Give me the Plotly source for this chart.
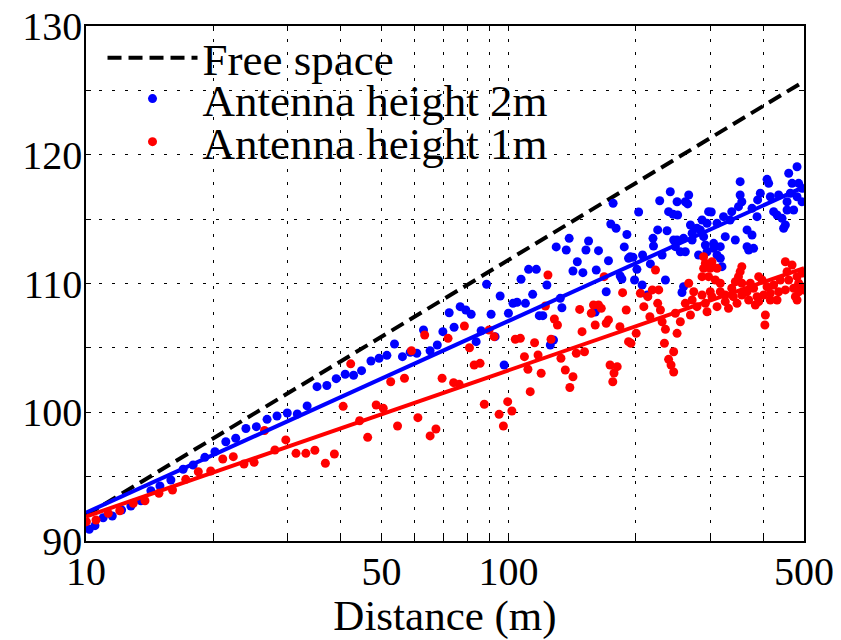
import plotly.graph_objects as go

# ---------------- data ----------------
# Antenna height 2 m (blue dots): distance (m) and path loss (dB)
dist_2m = [
    10.18, 10.50, 10.98, 11.54, 12.14, 12.77, 13.49, 14.24, 14.96, 15.88,
    16.98, 17.93, 19.11, 20.19, 21.42, 22.61, 23.90, 25.30, 26.82, 28.31,
    29.94, 31.62, 33.36, 35.21, 37.15, 39.09, 41.05, 42.97, 44.88, 47.24,
    49.38, 51.52, 53.7, 56.08, 58.5, 60.64, 62.9, 65.19, 67.8, 69.9,
    72.34, 74.3, 76.8, 79.2, 81.54, 83.8, 86.1, 88.7, 90.9, 92.9,
    95.5, 97.6, 99.9, 102.4, 104.7, 107.0, 109.6, 111.5, 114.0, 116.3,
    118.2, 120.5, 123.2, 125.5, 127.7, 129.6, 132.5, 133.7, 136.9, 139.1,
    142.0, 145.4, 149.9, 152.4, 154.6, 160.3, 161.2, 163.2, 170.2, 172.3,
    174.5, 176.7, 179.6, 183.7, 185.4, 187.8, 190.5, 192.2, 194.0, 196.9,
    198.6, 201.2, 203.1, 207.0, 207.5, 212.8, 216.5, 219.6, 220.2, 225.3,
    227.8, 230.8, 235.0, 237.1, 239.1, 241.3, 245.0, 245.8, 248.1, 250.4,
    251.2, 250.4, 254.9, 257.2, 259.4, 259.4, 261.9, 261.9, 265.3, 266.8,
    269.3, 271.8, 271.8, 279.1, 281.5, 284.2, 286.9, 289.4, 292.1, 294.8,
    294.8, 297.3, 301.7, 305.6, 305.6, 311.3, 311.3, 316.9, 316.9, 319.8,
    322.5, 325.6, 334.2, 337.3, 343.9, 349.9, 353.1, 353.1, 356.3, 366.6,
    366.6, 369.8, 376.7, 376.7, 379.9, 387.1, 388.4, 394.1, 408.8, 412.4,
    416.2, 423.8, 431.7, 435.5, 443.6, 447.5, 451.7, 455.9, 455.9, 460.0,
    464.1, 468.5, 472.6, 481.4, 481.4, 485.6, 494.7, 494.7,
]
loss_2m = [
    90.91, 91.19, 91.81, 91.94, 92.41, 92.72, 93.13, 93.91, 94.27, 94.74,
    95.57, 95.90, 96.50, 96.94, 97.71, 97.98, 98.74, 98.88, 99.45, 99.71,
    99.94, 99.86, 100.49, 101.99, 102.08, 102.61, 102.95, 102.87, 103.23, 103.98,
    104.19, 104.42, 105.30, 104.32, 104.66, 104.58, 106.39, 104.78, 105.22, 106.26,
    107.73, 106.60, 108.20, 107.94, 107.61, 105.48, 106.33, 109.94, 107.61, 105.87,
    109.03, 103.67, 107.69, 108.46, 108.54, 110.33, 108.46, 111.10, 109.16, 111.10,
    107.50, 107.50, 109.88, 105.22, 105.61, 112.84, 108.85, 108.12, 112.60, 113.51,
    110.97, 111.69, 110.84, 112.60, 113.30, 107.79, 111.05, 112.55, 109.36, 111.77,
    114.62, 116.23, 114.29, 110.58, 110.35, 112.84, 113.81, 111.96, 112.08, 112.04,
    110.27, 111.10, 115.55, 109.88, 112.21, 109.11, 111.52, 113.51, 112.91, 114.16,
    116.43, 112.21, 110.27, 114.10, 115.58, 117.13, 115.38, 113.38, 112.86, 116.35,
    115.32, 113.38, 112.47, 109.30, 109.75, 113.51, 116.35, 112.47, 116.18, 116.87,
    114.54, 113.90, 113.38, 114.29, 112.21, 114.16, 114.93, 113.64, 112.99, 114.68,
    112.47, 115.58, 115.55, 113.12, 112.73, 114.68, 112.21, 112.86, 111.96, 111.31,
    115.19, 113.64, 114.93, 115.58, 113.38, 115.97, 117.91, 116.87, 116.35, 114.16,
    112.86, 112.60, 115.84, 113.77, 112.73, 115.19, 116.49, 117.01, 118.09, 117.78,
    116.74, 115.58, 115.32, 116.87, 115.06, 114.29, 114.54, 116.35, 115.71, 118.56,
    117.01, 117.78, 115.71, 119.07, 116.74, 117.78, 117.39, 116.35,
]

# Antenna height 1 m (red dots)
dist_1m = [
    10.02, 10.56, 11.29, 12.02, 12.94, 13.79, 14.88, 16.02, 17.22, 18.44,
    19.73, 21.07, 22.31, 23.65, 24.99, 26.45, 27.99, 29.7, 31.4, 33.13,
    34.8, 36.85, 38.7, 40.6, 42.3, 44.4, 46.4, 48.6, 50.5, 52.6,
    54.6, 56.7, 58.9, 61.0, 63.3, 65.2, 67.3, 69.6, 71.9, 74.1,
    76.4, 78.6, 80.8, 82.9, 85.6, 87.6, 89.9, 92.4, 94.95, 97.2,
    99.5, 101.8, 103.7, 106.6, 109.0, 111.1, 112.5, 115.2, 117.4, 119.4,
    122.2, 123.9, 126.0, 128.3, 130.5, 133.0, 136.2, 139.6, 142.0, 144.6,
    147.3, 149.2, 151.2, 156.9, 158.8, 160.3, 163.2, 165.7, 168.3, 170.2,
    172.3, 173.8, 176.4, 177.6, 180.7, 183.4, 186.1, 189.8, 192.2, 194.7,
    200.4, 205.0, 208.9, 213.5, 215.9, 218.8, 222.6, 225.3, 226.6, 228.7,
    230.8, 233.7, 235.0, 239.1, 242.3, 245.8, 245.8, 248.1, 250.4, 254.9,
    261.9, 266.8, 269.3, 271.8, 274.2, 279.1, 286.9, 286.9, 289.4, 289.4,
    292.1, 292.1, 294.8, 297.3, 300.0, 300.0, 302.8, 302.8, 308.4, 311.3,
    311.3, 316.9, 316.9, 325.6, 325.6, 331.4, 337.3, 340.2, 343.9, 347.1,
    349.9, 353.1, 356.3, 356.3, 356.3, 366.6, 369.8, 373.2, 379.9, 383.5,
    387.1, 390.6, 390.6, 397.9, 401.3, 405.1, 404.0, 408.8, 416.2, 416.2,
    423.8, 431.7, 435.5, 439.5, 451.7, 451.7, 455.9, 460.0, 468.5, 472.6,
    477.0, 481.4, 481.4, 485.6, 485.6, 494.7, 494.7, 498.9,
]
loss_1m = [
    91.50, 91.63, 92.15, 92.35, 92.93, 93.13, 93.71, 93.96, 94.79, 95.38,
    95.44, 96.37, 96.55, 95.98, 96.11, 98.58, 97.07, 97.85, 96.81, 96.81,
    97.05, 96.04, 96.76, 100.46, 103.76, 99.34, 98.05, 100.56, 100.31, 102.37,
    98.93, 102.64, 104.78, 99.58, 106.00, 98.16, 98.70, 102.64, 105.74, 102.30,
    102.17, 106.70, 105.01, 103.67, 103.80, 100.62, 106.39, 105.87, 99.84, 98.93,
    100.82, 100.10, 105.67, 105.74, 104.32, 103.34, 101.60, 105.40, 104.45, 103.03,
    108.25, 110.66, 105.67, 107.24, 106.78, 104.19, 103.28, 101.92, 102.76, 104.58,
    107.99, 106.26, 104.70, 107.69, 108.33, 106.78, 108.33, 108.07, 110.53, 106.91,
    107.17, 103.67, 102.37, 103.05, 103.54, 106.65, 109.29, 107.94, 105.48, 105.36,
    106.13, 109.24, 108.20, 108.98, 107.42, 109.50, 111.05, 108.46, 109.50, 107.94,
    107.03, 105.36, 106.44, 104.11, 103.67, 103.13, 104.70, 107.69, 106.13, 107.03,
    108.46, 110.02, 107.55, 108.72, 109.36, 108.20, 110.53, 109.11, 112.08, 111.18,
    111.57, 108.46, 107.81, 110.53, 111.18, 109.36, 111.69, 108.98, 110.27, 111.18,
    108.20, 110.02, 109.36, 109.11, 108.59, 108.07, 109.63, 108.98, 110.14, 108.46,
    110.53, 110.92, 111.31, 110.02, 109.11, 109.36, 108.72, 110.02, 109.63, 108.33,
    108.98, 110.53, 108.59, 110.27, 109.11, 107.55, 106.78, 109.75, 109.24, 108.72,
    109.88, 108.72, 109.36, 110.27, 111.69, 109.50, 110.92, 110.27, 111.44, 109.63,
    108.98, 110.53, 108.72, 110.02, 109.36, 110.81, 109.75, 109.50,
]

# Reference lines (values at the ends of the distance range)
line_dist = [10, 500]
free_space = [92.0, 125.7]
fit_2m = [92.2, 117.5]
fit_1m = [91.9, 111.2]

# Axis ticks
x_tick_vals = [10, 20, 30, 40, 50, 60, 70, 80, 90, 100, 200, 300, 400, 500]
x_tick_text = ["10", "", "", "", "50", "", "", "", "", "100", "", "", "", "500"]
y_tick_vals = [90, 95, 100, 105, 110, 115, 120, 125, 130]
y_tick_text = ["90", "", "100", "", "110", "", "120", "", "130"]

# ---------------- figure ----------------
FONT = "Liberation Serif, Times New Roman, serif"
BLUE = "rgb(0,0,255)"
RED = "rgb(255,0,0)"

fig = go.Figure()

fig.add_trace(go.Scatter(
    x=line_dist, y=free_space, mode="lines", name="Free space",
    line=dict(color="black", width=4, dash="14px,7px"),
    legend="legend", hoverinfo="skip",
))
fig.add_trace(go.Scatter(
    x=dist_2m, y=loss_2m, mode="markers", name="Antenna height 2m",
    marker=dict(color=BLUE, size=9, line=dict(width=0)),
    legend="legend2", hoverinfo="skip",
))
fig.add_trace(go.Scatter(
    x=dist_1m, y=loss_1m, mode="markers", name="Antenna height 1m",
    marker=dict(color=RED, size=9, line=dict(width=0)),
    legend="legend3", hoverinfo="skip",
))
fig.add_trace(go.Scatter(
    x=line_dist, y=fit_2m, mode="lines", showlegend=False,
    line=dict(color=BLUE, width=4), hoverinfo="skip",
))
fig.add_trace(go.Scatter(
    x=line_dist, y=fit_1m, mode="lines", showlegend=False,
    line=dict(color=RED, width=4), hoverinfo="skip",
))

axis_common = dict(
    showline=True, linecolor="black", linewidth=1.5, mirror="ticks",
    ticks="inside", ticklen=5, tickwidth=1, tickcolor="black",
    showgrid=True, gridcolor="black", gridwidth=1, griddash="3px,10px",
    zeroline=False, automargin=False, ticklabeloverflow="allow",
    tickfont=dict(family=FONT, size=40, color="black"),
)

fig.update_xaxes(
    type="log", range=[1, 2.69897],
    tickvals=x_tick_vals, ticktext=x_tick_text,
    ticklabelstandoff=-6,
    title=dict(text="Distance (m)", font=dict(family=FONT, size=43, color="black"),
               standoff=6),
    **axis_common,
)
fig.update_yaxes(
    range=[90, 130],
    tickvals=y_tick_vals, ticktext=y_tick_text,
    ticklabelstandoff=-6,
    **axis_common,
)

legend_common = dict(
    xanchor="left", yanchor="middle", x=0.023,
    bgcolor="rgba(0,0,0,0)", borderwidth=0,
    font=dict(family=FONT, size=45, color="black"),
    itemwidth=90,
)

# the page body has an 8 px margin, so the figure is 8 px smaller and the
# margins are reduced by 8 px to keep the plot area where the reference has it
fig.update_layout(
    width=833, height=632, autosize=False,
    margin=dict(l=78, r=37, t=18, b=99),
    paper_bgcolor="white", plot_bgcolor="white",
    legend=dict(y=0.938, **legend_common),
    legend2=dict(y=0.8585, **legend_common),
    legend3=dict(y=0.775, **legend_common),
    shapes=[dict(
        type="rect", xref="paper", yref="paper",
        x0=0.02, x1=0.66, y0=0.71, y1=0.985,
        fillcolor="white", line=dict(width=0), layer="between",
    )],
)

fig.write_html("out.html")
